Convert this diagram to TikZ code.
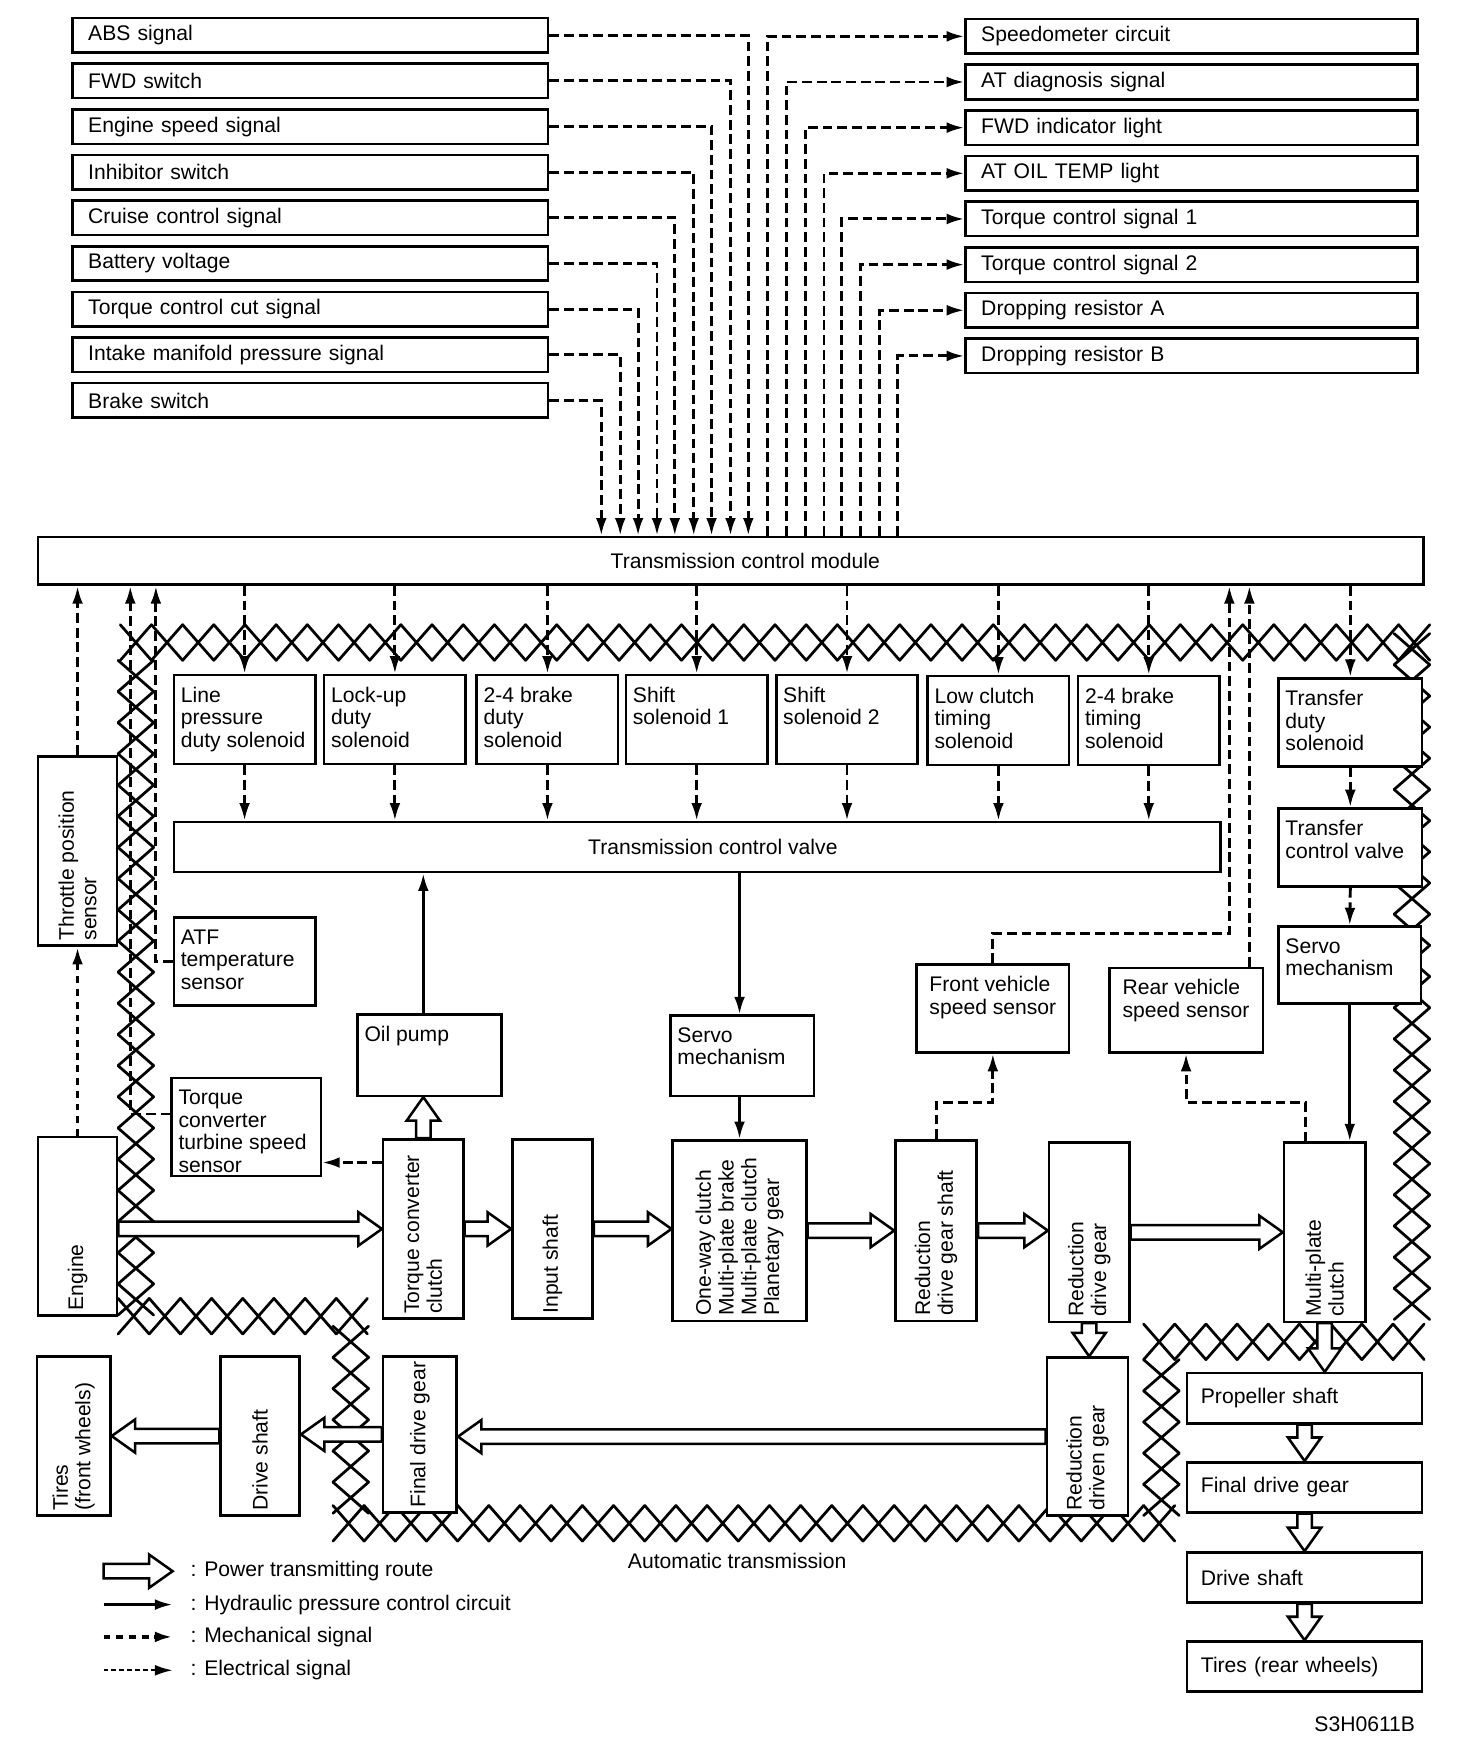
\documentclass[tikz,border=0pt]{standalone}
\usepackage{fontspec}
\setmainfont{Liberation Sans}
\usepackage{tikz}
\usetikzlibrary{arrows.meta,calc}

% sizes of the hollow power arrows
\newcommand{\powa}{3.7pt}
\newcommand{\powb}{8.5pt}
\newcommand{\powl}{12pt}
% cross-hatched border: centre line, start, number of cells
\newcommand{\hxband}[3]{\foreach \i in {1,...,#3}{\draw[hatch] ({#2+(\i-1)*28},{#1-16}) -- ({#2+\i*28},{#1+16}) ({#2+(\i-1)*28},{#1+16}) -- ({#2+\i*28},{#1-16});}}
\newcommand{\vxband}[3]{\foreach \i in {1,...,#3}{\draw[hatch] ({#1-16},{#2+(\i-1)*28}) -- ({#1+16},{#2+\i*28}) ({#1+16},{#2+(\i-1)*28}) -- ({#1-16},{#2+\i*28});}}

\begin{document}
\begin{tikzpicture}[
    x=0.02cm, y=-0.02cm,
    font=\fontsize{10.8}{11.6}\selectfont,
    sz/.style 2 args={minimum width=#1*0.02cm, minimum height=#2*0.02cm},
    box/.style={rectangle, draw, line width=1.3pt, fill=white, inner sep=0pt, anchor=north west},
    lbox/.style={box, align=left, inner xsep=8pt, minimum height=31*0.02cm, text width=227pt},
    rbox/.style={box, align=left, inner xsep=8pt, minimum height=31*0.02cm, text width=215pt},
    cbox/.style={box, align=left, inner xsep=7pt, minimum height=45*0.02cm, text width=106pt},
    lab/.style={align=left, inner xsep=4pt, inner ysep=6.5pt, anchor=north west},
    tl/.style={label={[lab]north west:#1}},
    tc/.style={label={[lab, anchor=north]north:#1}},
    vl/.style={label={[rotate=90, anchor=west, align=left, inner sep=3pt]south:#1}},
    sigtip/.style={-{Latex[length=9pt, width=5.5pt]}},
    elec/.style={sigtip, line width=1.5pt, dash pattern=on 5pt off 2.5pt},
    mech/.style={sigtip, line width=1.8pt, dash pattern=on 3.5pt off 3pt},
    hyd/.style={sigtip, line width=1.5pt},
    power/.style={line width=1.3pt, fill=white, to path={
        let \p1=(\tikztostart), \p2=(\tikztotarget),
            \n1={veclen(\x2-\x1,\y2-\y1)}, \n2={(\x2-\x1)/\n1}, \n3={(\y2-\y1)/\n1}
        in ({\x1-\powa*\n3},{\y1+\powa*\n2})
        -- ({\x2-\powl*\n2-\powa*\n3},{\y2-\powl*\n3+\powa*\n2})
        -- ({\x2-\powl*\n2-\powb*\n3},{\y2-\powl*\n3+\powb*\n2})
        -- (\x2,\y2)
        -- ({\x2-\powl*\n2+\powb*\n3},{\y2-\powl*\n3-\powb*\n2})
        -- ({\x2-\powl*\n2+\powa*\n3},{\y2-\powl*\n3-\powa*\n2})
        -- ({\x1+\powa*\n3},{\y1-\powa*\n2}) -- cycle}},
    hatch/.style={line width=1.4pt, line cap=round}
]
\useasboundingbox (0,0) rectangle (1308,1568);

% automatic transmission border
\hxband{577}{108}{42}
\vxband{1268}{569}{22}
\hxband{1205}{1027}{9}
\vxband{1043}{1221}{5}
\hxband{1368}{299}{27}
\vxband{315}{1191}{6}
\hxband{1182}{106}{8}
\vxband{122}{593}{21}

% input signals
\node[lbox] (abs) at (64,15) {ABS signal};
\node[lbox] (fwdsw) at (64,56) {FWD switch};
\node[lbox] (engspd) at (64,97) {Engine speed signal};
\node[lbox] (inhib) at (64,138) {Inhibitor switch};
\node[lbox] (cruise) at (64,179) {Cruise control signal};
\node[lbox] (batt) at (64,220) {Battery voltage};
\node[lbox] (tqcut) at (64,261) {Torque control cut signal};
\node[lbox] (intake) at (64,302) {Intake manifold pressure signal};
\node[lbox] (brake) at (64,343) {Brake switch};

% output signals
\node[rbox] (speedo) at (866,16) {Speedometer circuit};
\node[rbox] (atdiag) at (866,57) {AT diagnosis signal};
\node[rbox] (fwdind) at (866,98) {FWD indicator light};
\node[rbox] (oiltemp) at (866,139) {AT OIL TEMP light};
\node[rbox] (tcs1) at (866,180) {Torque control signal 1};
\node[rbox] (tcs2) at (866,221) {Torque control signal 2};
\node[rbox] (dra) at (866,262) {Dropping resistor A};
\node[rbox] (drb) at (866,303) {Dropping resistor B};

\node[box, sz={1244}{43}, label={[xshift=7.5pt]center:Transmission control module}] (tcm) at (33,481) {};

% solenoids
\node[box, sz={127}{80}, tl={Line\\pressure\\duty solenoid}] (lpds) at (155,605) {};
\node[box, sz={127}{80}, tl={Lock-up\\duty\\solenoid}] (luds) at (290,605) {};
\node[box, sz={127}{80}, tl={2-4 brake\\duty\\solenoid}] (bds) at (427,605) {};
\node[box, sz={127}{80}, tl={Shift\\solenoid 1}] (ss1) at (561,605) {};
\node[box, sz={127}{80}, tl={Shift\\solenoid 2}] (ss2) at (696,605) {};
\node[box, sz={127}{80}, tl={Low clutch\\timing\\solenoid}] (lcts) at (832,606) {};
\node[box, sz={127}{80}, tl={2-4 brake\\timing\\solenoid}] (bts) at (967,606) {};
\node[box, sz={129}{79}, tl={Transfer\\duty\\solenoid}] (tds) at (1147,608) {};

\node[box, sz={940}{45}, label={[xshift=8pt]center:Transmission control valve}] (tcv) at (155,737) {};
\node[box, sz={129}{70}, tl={Transfer\\control valve}] (trcv) at (1147,725) {};
\node[box, sz={128}{69}, tl={Servo\\mechanism}] (servor) at (1147,831) {};

% sensors and hydraulic parts
\node[box, sz={71}{170}, vl={Throttle position\\sensor}] (tps) at (33,678) {};
\node[box, sz={127}{79}, tl={ATF\\temperature\\sensor}] (atf) at (155,823) {};
\node[box, sz={134}{88}, tl={Torque\\converter\\turbine speed\\sensor}] (tcts) at (153,967) {};
\node[box, sz={129}{73}, tl={Oil pump}] (oil) at (320,910) {};
\node[box, sz={129}{72}, tl={Servo\\mechanism}] (servo) at (601,911) {};
\node[box, sz={137}{79}, tc={Front vehicle\\speed sensor}] (fvss) at (822,865) {};
\node[box, sz={138}{76}, tc={Rear vehicle\\speed sensor}] (rvss) at (995,868) {};

% drive train
\node[box, sz={71}{160}, vl={Engine}] (engine) at (33,1020) {};
\node[box, sz={72}{161}, vl={Torque converter\\clutch}] (tcc) at (343,1022) {};
\node[box, sz={72}{161}, vl={Input shaft}] (inshaft) at (459,1022) {};
\node[box, sz={120}{162}, vl={One-way clutch\\Multi-plate brake\\Multi-plate clutch\\Planetary gear}] (owc) at (603,1023) {};
\node[box, sz={73}{162}, vl={Reduction\\drive gear shaft}] (rdgs) at (803,1023) {};
\node[box, sz={72}{161}, vl={Reduction\\drive gear}] (rdg) at (941,1025) {};
\node[box, sz={73}{161}, vl={Multi-plate\\clutch}] (mpc) at (1152,1025) {};
\node[box, sz={66}{143}, vl={Tires\\(front wheels)}] (tiref) at (32,1217) {};
\node[box, sz={71}{143}, vl={Drive shaft}] (dsf) at (197,1217) {};
\node[box, sz={66}{140}, vl={Final drive gear}] (fdgf) at (343,1217) {};
\node[box, sz={73}{142}, vl={Reduction\\driven gear}] (rdvn) at (939,1218) {};
\node[cbox] (prop) at (1065,1232) {Propeller shaft};
\node[cbox] (fdgr) at (1065,1312) {Final drive gear};
\node[cbox] (dsr) at (1065,1393) {Drive shaft};
\node[cbox] (tirer) at (1065,1473) {Tires (rear wheels)};

\node (atlabel) at (662,1402) {Automatic transmission};
\node[anchor=east] (code) at (1277,1548) {S3H0611B};

% signals into the control module
\draw[elec] (abs.east) -| (672,0 |- tcm.north);
\draw[elec] (fwdsw.east) -| (656,0 |- tcm.north);
\draw[elec] (engspd.east) -| (639,0 |- tcm.north);
\draw[elec] (inhib.east) -| (623,0 |- tcm.north);
\draw[elec] (cruise.east) -| (606,0 |- tcm.north);
\draw[elec] (batt.east) -| (590,0 |- tcm.north);
\draw[elec] (tqcut.east) -| (573,0 |- tcm.north);
\draw[elec] (intake.east) -| (557,0 |- tcm.north);
\draw[elec] (brake.east) -| (540,0 |- tcm.north);

% signals out of the control module
\draw[elec] (689,0 |- tcm.north) |- (speedo.west);
\draw[elec] (706,0 |- tcm.north) |- (atdiag.west);
\draw[elec] (723,0 |- tcm.north) |- (fwdind.west);
\draw[elec] (740,0 |- tcm.north) |- (oiltemp.west);
\draw[elec] (756,0 |- tcm.north) |- (tcs1.west);
\draw[elec] (773,0 |- tcm.north) |- (tcs2.west);
\draw[elec] (790,0 |- tcm.north) |- (dra.west);
\draw[elec] (806,0 |- tcm.north) |- (drb.west);

% control module to solenoids
\draw[elec] (lpds.north |- tcm.south) -- (lpds.north);
\draw[elec] (luds.north |- tcm.south) -- (luds.north);
\draw[elec] (bds.north |- tcm.south) -- (bds.north);
\draw[elec] (ss1.north |- tcm.south) -- (ss1.north);
\draw[elec] (ss2.north |- tcm.south) -- (ss2.north);
\draw[elec] (lcts.north |- tcm.south) -- (lcts.north);
\draw[elec] (bts.north |- tcm.south) -- (bts.north);
\draw[elec] (tds.north |- tcm.south) -- (tds.north);

% solenoids to valves
\draw[elec] (lpds.south) -- (lpds.south |- tcv.north);
\draw[elec] (luds.south) -- (luds.south |- tcv.north);
\draw[elec] (bds.south) -- (bds.south |- tcv.north);
\draw[elec] (ss1.south) -- (ss1.south |- tcv.north);
\draw[elec] (ss2.south) -- (ss2.south |- tcv.north);
\draw[elec] (lcts.south) -- (lcts.south |- tcv.north);
\draw[elec] (bts.south) -- (bts.south |- tcv.north);
\draw[elec] (tds.south) -- (trcv.north);
\draw[elec] (trcv.south) -- (servor.north);

% sensors back to the control module
\draw[elec] (tps.north) -- (tps.north |- tcm.south);
\draw[mech] (engine.north) -- (engine.north |- tps.south);
\draw[elec] (atf.west) -| (140,0 |- tcm.south);
\draw[elec] ($(tcts.north west)!0.37!(tcts.south west)$) -| (117,0 |- tcm.south);
\draw[elec] (tcc.west |- 0,1044) -- (tcts.east |- 0,1044);
\draw[elec] (rdgs.north) -- ++(0,-33) -| (fvss.south);
\draw[elec] ($(mpc.north west)+(20,0)$) -- ++(0,-35) -| (rvss.south);
\draw[elec] (fvss.north) -- ++(0,-27) -| (1104,0 |- tcm.south);
\draw[elec] (1122,0 |- rvss.north) -- (1122,0 |- tcm.south);

% hydraulic circuit
\draw[hyd] (tcc.north |- oil.north) -- (tcc.north |- tcv.south);
\draw[hyd] (owc.north |- tcv.south) -- (owc.north |- servo.north);
\draw[hyd] (owc.north |- servo.south) -- (owc.north);
\draw[hyd] (servor.south) -- (servor.south |- mpc.north);

% power route
\draw[power] (engine.east |- tcc.west) to (tcc.west);
\draw[power] (tcc.east) to (tcc.east -| inshaft.west);
\draw[power] (inshaft.east) to (inshaft.east -| owc.west);
\draw[power] (owc.east) to (owc.east -| rdgs.west);
\draw[power] (rdgs.east) to (rdgs.east -| rdg.west);
\draw[power] (rdg.east) to (rdg.east -| mpc.west);
\draw[power] (tcc.north) to (tcc.north |- oil.south);
\draw[power] (rdg.south) to (rdg.south |- rdvn.north);
\draw[power] (rdvn.west) to (rdvn.west -| fdgf.east);
\draw[power] (fdgf.west) to (fdgf.west -| dsf.east);
\draw[power] (dsf.west) to (dsf.west -| tiref.east);
\draw[power] (mpc.south) to (mpc.south |- prop.north);
\draw[power] (prop.south) to (fdgr.north);
\draw[power] (fdgr.south) to (dsr.north);
\draw[power] (dsr.south) to (tirer.north);

% legend
\coordinate (lg1a) at (93,1411); \coordinate (lg1b) at (155,1411);
\coordinate (lg2a) at (93,1441); \coordinate (lg2b) at (155,1441);
\coordinate (lg3a) at (93,1470); \coordinate (lg3b) at (155,1470);
\coordinate (lg4a) at (93,1500); \coordinate (lg4b) at (155,1500);
\draw[power] (lg1a) to (lg1b);
\draw[hyd] (lg2a) -- (lg2b);
\draw[mech] (lg3a) -- (lg3b);
\draw[elec, line width=1pt, dash pattern=on 2.5pt off 1.5pt] (lg4a) -- (lg4b);
\node[anchor=west] (lgt1) at (165,1411) {: Power transmitting route};
\node[anchor=west] (lgt2) at (165,1441) {: Hydraulic pressure control circuit};
\node[anchor=west] (lgt3) at (165,1470) {: Mechanical signal};
\node[anchor=west] (lgt4) at (165,1500) {: Electrical signal};
\end{tikzpicture}
\end{document}
